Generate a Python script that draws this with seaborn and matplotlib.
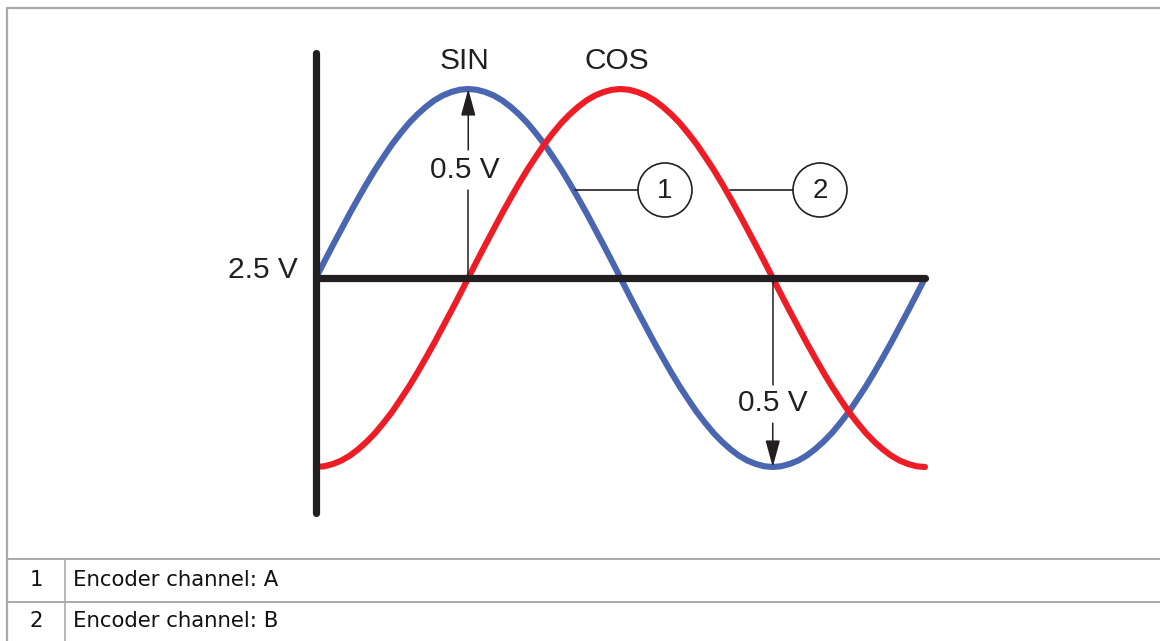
import matplotlib.pyplot as plt
import pandas as pd
import seaborn as sns
from matplotlib.patches import Circle

# Encoder signals (phase in degrees, level in volts)
phase_deg = list(range(0, 365, 5))
sin_volts = [2.500, 2.544, 2.587, 2.629, 2.671, 2.711, 2.750, 2.787, 2.821, 2.854, 2.883, 2.910,
             2.933, 2.953, 2.970, 2.983, 2.992, 2.998, 3.000,
             2.998, 2.992, 2.983, 2.970, 2.953, 2.933, 2.910, 2.883, 2.854, 2.821, 2.787, 2.750,
             2.711, 2.671, 2.629, 2.587, 2.544, 2.500,
             2.456, 2.413, 2.371, 2.329, 2.289, 2.250, 2.213, 2.179, 2.146, 2.117, 2.090, 2.067,
             2.047, 2.030, 2.017, 2.008, 2.002, 2.000,
             2.002, 2.008, 2.017, 2.030, 2.047, 2.067, 2.090, 2.117, 2.146, 2.179, 2.213, 2.250,
             2.289, 2.329, 2.371, 2.413, 2.456, 2.500]
cos_volts = [2.000, 2.002, 2.008, 2.017, 2.030, 2.047, 2.067, 2.090, 2.117, 2.146, 2.179, 2.213,
             2.250, 2.289, 2.329, 2.371, 2.413, 2.456, 2.500,
             2.544, 2.587, 2.629, 2.671, 2.711, 2.750, 2.787, 2.821, 2.854, 2.883, 2.910, 2.933,
             2.953, 2.970, 2.983, 2.992, 2.998, 3.000,
             2.998, 2.992, 2.983, 2.970, 2.953, 2.933, 2.910, 2.883, 2.854, 2.821, 2.787, 2.750,
             2.711, 2.671, 2.629, 2.587, 2.544, 2.500,
             2.456, 2.413, 2.371, 2.329, 2.289, 2.250, 2.213, 2.179, 2.146, 2.117, 2.090, 2.067,
             2.047, 2.030, 2.017, 2.008, 2.002, 2.000]
channel_names = ['SIN', 'COS']
offset_volts = 2.5
offset_label = '2.5 V'
amp_label = '0.5 V'
callout_nums = ['1', '2']
legend_rows = ['Encoder channel: A', 'Encoder channel: B']

BLUE = '#4a66b0'
RED = '#ee1c25'
INK = '#231f20'
GRID = '#aaaaaa'

sns.set_theme(style='white')
plt.rcParams['font.family'] = ['Liberation Sans', 'DejaVu Sans']

df = pd.DataFrame({
    'phase': phase_deg * 2,
    'volts': sin_volts + cos_volts,
    'channel': [channel_names[0]] * len(phase_deg) + [channel_names[1]] * len(phase_deg),
})

fig = plt.figure(figsize=(11.6, 6.41), dpi=100)

# diagram axes: 360 deg spans 609 px starting at px 316, 1 V = 378 px with 2.5 V at px 278
px_deg = 609 / 360
px_volt = 378
ax = fig.add_axes([0, 0, 1, 1])
ax.set_xlim(-316 / px_deg, (1160 - 316) / px_deg)
ax.set_ylim(offset_volts - (641 - 278) / px_volt, offset_volts + 278 / px_volt)
ax.set_axis_off()

sns.lineplot(data=df, x='phase', y='volts', hue='channel', hue_order=channel_names,
             palette=[BLUE, RED], linewidth=4.4, legend=False, sort=False,
             solid_capstyle='round', solid_joinstyle='round', ax=ax, zorder=2)

# axes of the drawing
ax.plot([0, 0], [1.878, 3.095], color=INK, lw=5.2, solid_capstyle='round', zorder=3)
ax.plot([0, 360], [offset_volts, offset_volts], color=INK, lw=5.2, solid_capstyle='round', zorder=3)

FS = 21.5
ax.text(-11, offset_volts + 0.02, offset_label, ha='right', va='center', fontsize=FS, color=INK)

peak = max(sin_volts)
trough = min(sin_volts)
pk_phase = phase_deg[sin_volts.index(peak)]
tr_phase = phase_deg[sin_volts.index(trough)]
ax.text(pk_phase - 2, 3.074, channel_names[0], ha='center', va='center', fontsize=FS, color=INK)
ax.text(phase_deg[cos_volts.index(max(cos_volts))] - 2, 3.074, channel_names[1],
        ha='center', va='center', fontsize=FS, color=INK)

arrow = dict(arrowstyle='-|>,head_length=1.65,head_width=0.45', color=INK, lw=1.1,
             shrinkA=0, shrinkB=0, mutation_scale=10)

# upward 0.5 V marker
ax.plot([pk_phase, pk_phase], [offset_volts, 2.733], color=INK, lw=1.1, zorder=4)
ax.annotate('', xy=(pk_phase, peak), xytext=(pk_phase, 2.839), arrowprops=arrow, zorder=4)
ax.text(pk_phase - 2, 2.785, amp_label, ha='center', va='center', fontsize=FS, color=INK)

# downward 0.5 V marker
ax.plot([tr_phase, tr_phase], [offset_volts, 2.217], color=INK, lw=1.1, zorder=4)
ax.annotate('', xy=(tr_phase, trough), xytext=(tr_phase, 2.116), arrowprops=arrow, zorder=4)
ax.text(tr_phase, 2.168, amp_label, ha='center', va='center', fontsize=FS, color=INK)

# overlay in pixel units for callouts, frame and key table
ov = fig.add_axes([0, 0, 1, 1])
ov.set_xlim(0, 1160)
ov.set_ylim(641, 0)
ov.set_axis_off()
ov.patch.set_alpha(0)

for (x0, cx), num in zip([(575, 665), (730, 820)], callout_nums):
    ov.plot([x0, cx - 27], [190, 190], color=INK, lw=1.2)
    ov.add_patch(Circle((cx, 190), 27, fill=False, ec=INK, lw=1.2))
    ov.text(cx, 191, num, ha='center', va='center', fontsize=20, color=INK)

ov.plot([7, 1160], [8, 8], color=GRID, lw=1.6)
ov.plot([7, 7], [8, 641], color=GRID, lw=1.6)
for y in [559, 602]:
    ov.plot([7, 1160], [y, y], color=GRID, lw=1.4)
ov.plot([65, 65], [559, 641], color=GRID, lw=1.2)

for y, num, row in zip([580, 621], callout_nums, legend_rows):
    ov.text(36, y, num, ha='center', va='center', fontsize=15.3, color='#111111', family=['DejaVu Sans'])
    ov.text(73, y, row, ha='left', va='center', fontsize=15.3, color='#111111', family=['DejaVu Sans'])

plt.savefig('out.png', dpi=100, facecolor='white')
